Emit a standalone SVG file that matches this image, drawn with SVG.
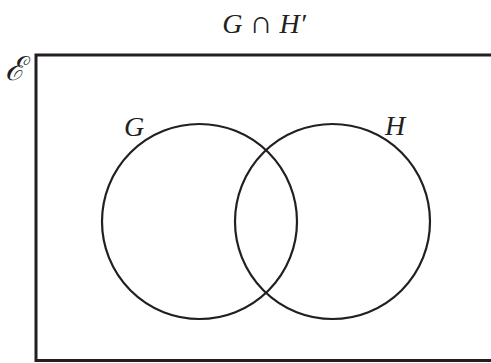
<svg xmlns="http://www.w3.org/2000/svg" width="491" height="363" viewBox="0 0 491 363">
<style>
.lbl{font-family:"Liberation Serif","DejaVu Serif",serif;font-style:italic;fill:#231f20}
.shape{fill:none;stroke:#231f20}
</style>
<rect width="491" height="363" fill="#ffffff"/>
<g id="universe">
<rect class="shape" x="36" y="55" width="500" height="305.5" stroke-width="3"/>
<text class="lbl" x="5" y="80" font-size="33" font-style="normal" font-family="DejaVu Serif, serif">ℰ</text>
</g>
<g id="setG">
<circle class="shape" cx="199.5" cy="221.5" r="97.5" stroke-width="2.2"/>
<text class="lbl" x="124" y="136" font-size="28">G</text>
</g>
<g id="setH">
<circle class="shape" cx="332.5" cy="221.5" r="97.5" stroke-width="2.2"/>
<text class="lbl" x="385" y="135" font-size="28">H</text>
</g>
<g id="title">
<text class="lbl" x="264" y="33" font-size="28" text-anchor="middle">G <tspan font-style="normal" font-size="32">∩</tspan> H′</text>
</g>
</svg>
